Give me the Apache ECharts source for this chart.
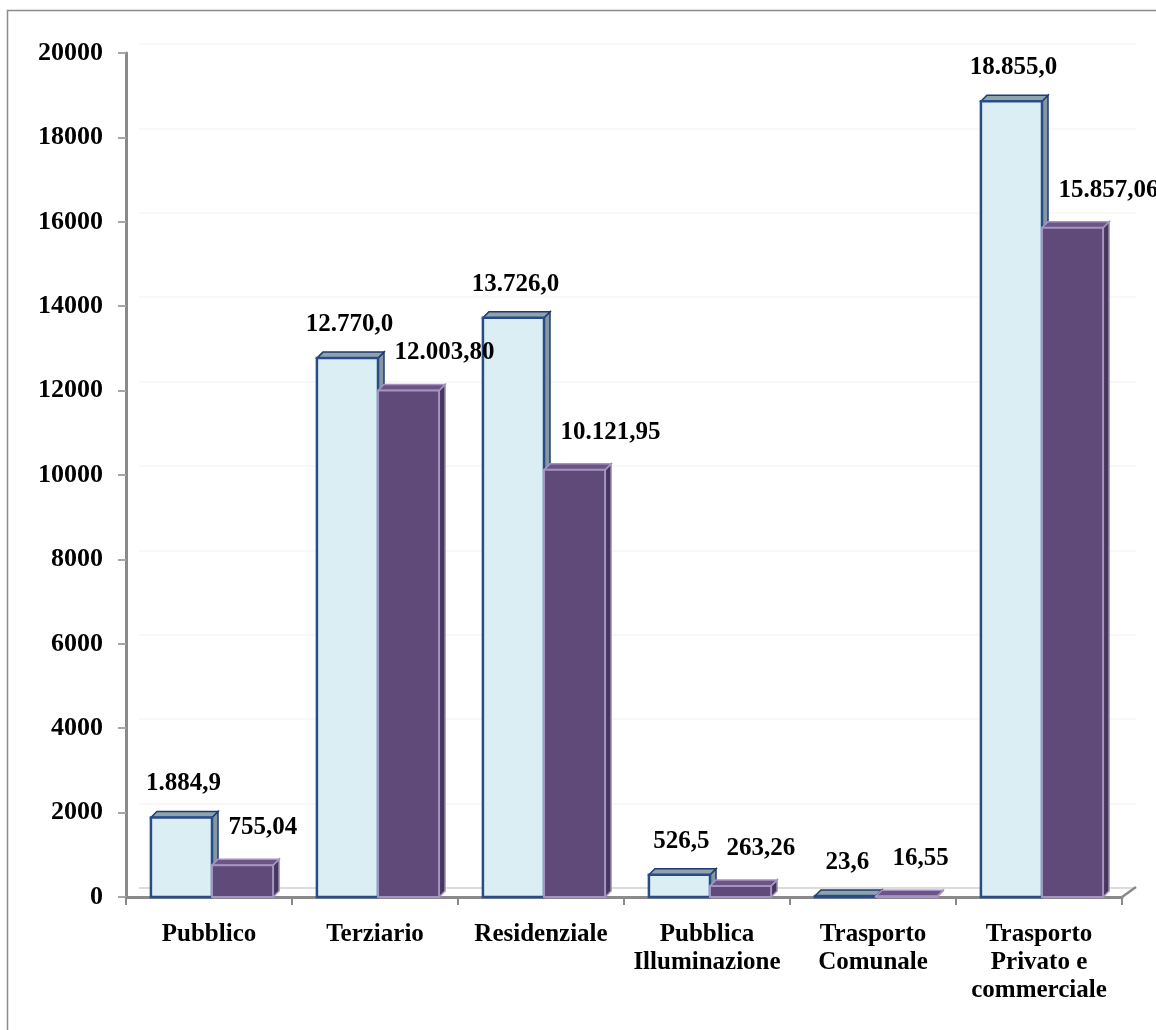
<!DOCTYPE html>
<html>
<head>
<meta charset="utf-8">
<title>Consumi per settore</title>
<script src="https://cdn.jsdelivr.net/npm/echarts@6/dist/echarts.min.js"></script>
<style>
  html, body { margin: 0; padding: 0; background: #ffffff; }
  #chart { width: 1156px; height: 1030px; }
</style>
</head>
<body>
<div id="chart"></div>
<script>
// Settori e valori (due serie per settore)
const categories = [
  'Pubblico',
  'Terziario',
  'Residenziale',
  'Pubblica\nIlluminazione',
  'Trasporto\nComunale',
  'Trasporto\nPrivato e\ncommerciale'
];
const valoriA = [1884.9, 12770.0, 13726.0, 526.5, 23.6, 18855.0];
const valoriB = [755.04, 12003.80, 10121.95, 263.26, 16.55, 15857.06];
const decimaliA = 1;
const decimaliB = 2;

// Asse Y
const yMin = 0;
const yMax = 20000;
const yStep = 2000;

const FONT = '"Liberation Serif", "Times New Roman", serif';

// Formato numerico italiano: punto per le migliaia, virgola per i decimali
function formatIt(v, dec) {
  const parts = v.toFixed(dec).split('.');
  const intPart = parts[0].replace(/\B(?=(\d{3})+(?!\d))/g, '.');
  return parts.length > 1 ? intPart + ',' + parts[1] : intPart;
}

// Stili delle due serie (fronte, sommità, fianco)
const styleA = {
  front: { fill: '#DAEEF3', stroke: '#274C88', lineWidth: 2.5 },
  top:   { fill: '#8FA3AC', stroke: '#1F3B70', lineWidth: 1.5 },
  side:  { fill: '#8597A0', stroke: '#1F3B70', lineWidth: 1.5 }
};
const styleB = {
  front: { fill: '#5F4A7A', stroke: '#A693C3', lineWidth: 2 },
  top:   { fill: '#6A5586', stroke: '#A693C3', lineWidth: 1.5 },
  side:  { fill: '#46365C', stroke: '#A693C3', lineWidth: 1.5 }
};

const DEPTH_X = 6;
const DEPTH_Y = -6;
const BAR_RATIO = 0.368;

// Barra pseudo-3D: faccia frontale, sommità e fianco destro
function makeRenderItem(which) {
  const st = which === 0 ? styleA : styleB;
  const dec = which === 0 ? decimaliA : decimaliB;
  return function (params, api) {
    const idx = api.value(0);
    const val = api.value(1);
    const band = api.size([1, 0])[0];
    const w = band * BAR_RATIO;
    const base = api.coord([idx, 0]);
    const topPt = api.coord([idx, val]);
    const x0 = which === 0 ? base[0] - w + 3 : base[0] + 3;
    const x1 = x0 + w;
    const yb = base[1];
    const yt = topPt[1];
    const dx = DEPTH_X, dy = DEPTH_Y;

    const side = {
      type: 'polygon',
      shape: { points: [[x1, yt], [x1 + dx, yt + dy], [x1 + dx, yb + dy], [x1, yb]] },
      style: st.side
    };
    const top = {
      type: 'polygon',
      shape: { points: [[x0, yt], [x0 + dx, yt + dy], [x1 + dx, yt + dy], [x1, yt]] },
      style: st.top
    };
    const front = {
      type: 'rect',
      shape: { x: x0, y: yt, width: w, height: Math.max(yb - yt, 0.5) },
      style: st.front
    };
    const label = {
      type: 'text',
      z2: 100,
      style: which === 0
        ? { text: formatIt(val, dec), x: (x0 + x1) / 2 + 2, y: yt - 21,
            align: 'center', verticalAlign: 'bottom',
            font: 'bold 25px ' + FONT, fill: '#000000' }
        : { text: formatIt(val, dec), x: (x0 + x1) / 2 - 14, y: yt - 25,
            align: 'left', verticalAlign: 'bottom',
            font: 'bold 25px ' + FONT, fill: '#000000' }
    };
    return { type: 'group', children: [side, top, front, label] };
  };
}

const dataA = valoriA.map((v, i) => [i, v]);
const dataB = valoriB.map((v, i) => [i, v]);

// Linee della parete di fondo: la prima (pavimento) più marcata
const wallColors = ['#dcdcdc'];
for (let k = 1; k <= (yMax - yMin) / yStep; k++) wallColors.push('#f8f8f8');

const chart = echarts.init(document.getElementById('chart'), null, { renderer: 'canvas' });

const option = {
  backgroundColor: '#ffffff',
  animation: false,
  grid: [
    { left: 126, right: 34, top: 53, bottom: 133 },
    { left: 139, right: 20, top: 44, bottom: 142 }
  ],
  xAxis: [
    {
      type: 'category',
      gridIndex: 0,
      data: categories,
      axisLine: { show: true, lineStyle: { color: '#8a8a8a', width: 3 } },
      axisTick: { show: true, length: 8, lineStyle: { color: '#8a8a8a', width: 2 } },
      axisLabel: {
        interval: 0,
        margin: 24,
        color: '#000000',
        fontFamily: FONT,
        fontWeight: 'bold',
        fontSize: 25,
        lineHeight: 28
      },
      splitLine: { show: false }
    },
    {
      type: 'category',
      gridIndex: 1,
      data: categories,
      show: false
    }
  ],
  yAxis: [
    {
      type: 'value',
      gridIndex: 0,
      min: yMin,
      max: yMax,
      interval: yStep,
      axisLine: { show: true, lineStyle: { color: '#8a8a8a', width: 3 } },
      axisTick: { show: true, length: 8, lineStyle: { color: '#a6a6a6', width: 2 } },
      axisLabel: {
        margin: 23,
        color: '#000000',
        fontFamily: FONT,
        fontWeight: 'bold',
        fontSize: 26,
        formatter: (v) => String(v)
      },
      splitLine: { show: false }
    },
    {
      type: 'value',
      gridIndex: 1,
      min: yMin,
      max: yMax,
      interval: yStep,
      axisLine: { show: false },
      axisTick: { show: false },
      axisLabel: { show: false },
      splitLine: { show: true, lineStyle: { color: wallColors, width: 2 } }
    }
  ],
  series: [
    {
      type: 'custom',
      name: 'A',
      xAxisIndex: 0,
      yAxisIndex: 0,
      renderItem: makeRenderItem(0),
      encode: { x: 0, y: 1 },
      data: dataA,
      z: 2
    },
    {
      type: 'custom',
      name: 'B',
      xAxisIndex: 0,
      yAxisIndex: 0,
      renderItem: makeRenderItem(1),
      encode: { x: 0, y: 1 },
      data: dataB,
      z: 3
    }
  ]
};

chart.setOption(option);

// Cornice esterna e raccordo prospettico del pavimento
const rect = chart.getModel().getComponent('grid', 0).coordinateSystem.getRect();
const xr = rect.x + rect.width;
const yr = rect.y + rect.height;
chart.setOption({
  graphic: [
    {
      type: 'rect',
      shape: { x: 7.5, y: 10.5, width: 1300, height: 1200 },
      style: { fill: 'none', stroke: '#8c8c8c', lineWidth: 1.5 },
      silent: true
    },
    {
      type: 'line',
      shape: { x1: xr, y1: yr, x2: xr + 14, y2: yr - 10 },
      style: { stroke: '#8a8a8a', lineWidth: 2.5 },
      silent: true
    }
  ]
});
</script>
</body>
</html>
